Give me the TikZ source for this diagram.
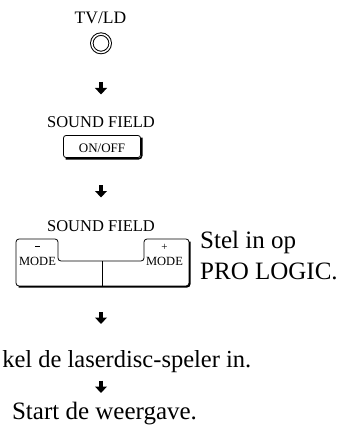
\documentclass[tikz,border=0pt]{standalone}
\usepackage{fontspec}
\setmainfont{Liberation Serif}
\usetikzlibrary{arrows.meta,calc}
\tikzset{
  lbl/.style={inner sep=0pt, anchor=base, font=\fontsize{16.5}{16.5}\selectfont},
  big/.style={inner sep=0pt, anchor=base west, font=\fontsize{25}{25}\selectfont},
  modelbl/.style={inner sep=0pt, anchor=base, font=\fontsize{12.5}{12.5}\selectfont},
  signlbl/.style={inner sep=0pt, font=\fontsize{11}{11}\selectfont},
  steparrow/.style={line width=3.4pt, -{Triangle[width=11.7pt,length=6.5pt]}},
  btnline/.style={line width=0.8pt, rounded corners=3pt},
  shadowline/.style={line width=1.6pt, rounded corners=3pt},
}
\begin{document}
\begin{tikzpicture}[x=1pt,y=-1pt]
\useasboundingbox (0,0) rectangle (355,425);
% TV/LD
\node[lbl, font=\fontsize{17.5}{17.5}\selectfont] (tvldlbl) at (100.5,24) {TV/LD};
\node[circle, draw, line width=1pt, double=white, double distance=1.5pt,
      minimum size=18.4pt, inner sep=0pt] (tvld) at (101,43.3) {};
% arrow 1
\coordinate (a1s) at (101,82);
\coordinate (a1e) at (101,94.5);
\draw[steparrow] (a1s) -- (a1e);
% SOUND FIELD ON/OFF
\node[lbl] (sf1) at (101,127) {SOUND FIELD};
\node[draw, line width=0.8pt, rounded corners=2.5pt, minimum width=77pt,
      minimum height=22pt, inner sep=0pt] (onoff) at (102,146.5) {};
\node[inner sep=0pt, anchor=base, font=\fontsize{13}{13}\selectfont] (onofftxt) at (102,152) {ON/OFF};
\draw[shadowline] ($(onoff.north east)+(0.8,2.5)$) -- ($(onoff.south east)+(0.8,0.8)$)
   -- ($(onoff.south west)+(2.5,0.8)$);
% arrow 2
\coordinate (a2s) at (101,185);
\coordinate (a2e) at (101,197.5);
\draw[steparrow] (a2s) -- (a2e);
% SOUND FIELD MODE
\node[lbl] (sf2) at (101,231) {SOUND FIELD};
\draw[btnline] (16,239) -- (58,239) -- (58,261) -- (144,261) -- (144,239)
   -- (189,239) -- (189,286) -- (16,286) -- cycle;
\draw[line width=0.8pt] (102,261) -- (102,286);
\draw[shadowline] (189.8,241.5) -- (189.8,286.8) -- (18.5,286.8);
\node[signlbl] (minus) at (37.5,247) {\rule[0.3ex]{4.5pt}{0.6pt}};
\node[modelbl] (modeL) at (37.5,265) {MODE};
\node[signlbl] (plus) at (164.5,247.5) {+};
\node[modelbl] (modeR) at (164.5,265) {MODE};
\node[big] (stel) at (200,248) {Stel in op};
\node[big] (pro) at (200,279) {PRO LOGIC.};
% arrow 3
\coordinate (a3s) at (101,312);
\coordinate (a3e) at (101,324);
\draw[steparrow] (a3s) -- (a3e);
\node[inner sep=0pt, anchor=base east, font=\fontsize{24.5}{24.5}\selectfont] (kel) at (251.5,367) {kel de laserdisc-speler in.};
% arrow 4
\coordinate (a4s) at (101,380.5);
\coordinate (a4e) at (101,393);
\draw[steparrow] (a4s) -- (a4e);
\node[inner sep=0pt, anchor=base, font=\fontsize{25}{25}\selectfont] (start) at (104.5,419.5) {Start de weergave.};
\end{tikzpicture}
\end{document}
